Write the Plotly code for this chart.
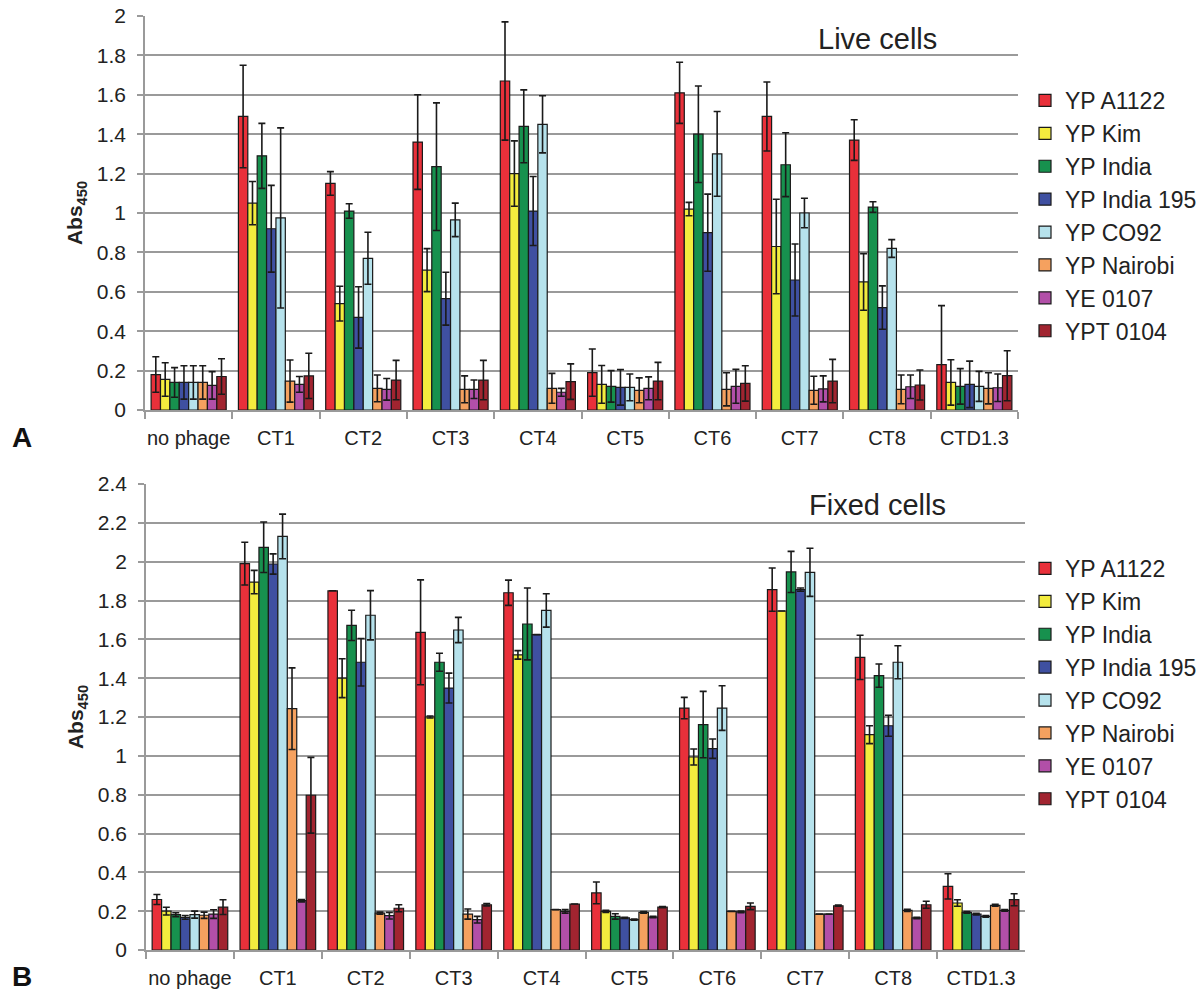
import plotly.graph_objects as go

# Phage categories on the x axis
categories = ["no phage", "CT1", "CT2", "CT3", "CT4", "CT5", "CT6", "CT7", "CT8", "CTD1.3"]

# Bacterial strains (one bar series each)
strains = ["YP A1122", "YP Kim", "YP India", "YP India 195", "YP CO92",
           "YP Nairobi", "YE 0107", "YPT 0104"]

strain_colors = ["#E9303A", "#F3EC3E", "#17914E", "#3F50A1", "#B6E2EC",
                 "#F5A15F", "#B24FA8", "#A12430"]

# Panel A: live cells, Abs450 means per strain across categories
live_yp_a1122 = [0.18, 1.49, 1.15, 1.36, 1.67, 0.19, 1.61, 1.49, 1.37, 0.23]
live_yp_kim = [0.155, 1.05, 0.54, 0.71, 1.20, 0.13, 1.02, 0.83, 0.65, 0.14]
live_yp_india = [0.14, 1.29, 1.01, 1.235, 1.44, 0.12, 1.40, 1.245, 1.03, 0.12]
live_yp_india195 = [0.14, 0.92, 0.47, 0.565, 1.01, 0.115, 0.90, 0.66, 0.52, 0.13]
live_yp_co92 = [0.14, 0.975, 0.77, 0.965, 1.45, 0.115, 1.30, 1.0, 0.82, 0.12]
live_yp_nairobi = [0.14, 0.147, 0.11, 0.105, 0.11, 0.10, 0.105, 0.10, 0.105, 0.11]
live_ye_0107 = [0.125, 0.13, 0.105, 0.105, 0.09, 0.11, 0.12, 0.107, 0.118, 0.113]
live_ypt_0104 = [0.17, 0.173, 0.152, 0.152, 0.144, 0.147, 0.135, 0.147, 0.127, 0.174]

live_err_yp_a1122 = [0.09, 0.26, 0.06, 0.24, 0.30, 0.12, 0.155, 0.175, 0.103, 0.30]
live_err_yp_kim = [0.085, 0.11, 0.088, 0.109, 0.166, 0.096, 0.034, 0.24, 0.144, 0.115]
live_err_yp_india = [0.075, 0.165, 0.037, 0.324, 0.185, 0.08, 0.245, 0.162, 0.027, 0.09]
live_err_yp_india195 = [0.085, 0.22, 0.156, 0.134, 0.175, 0.09, 0.196, 0.183, 0.11, 0.118]
live_err_yp_co92 = [0.085, 0.457, 0.132, 0.085, 0.145, 0.068, 0.215, 0.075, 0.045, 0.076]
live_err_yp_nairobi = [0.085, 0.107, 0.068, 0.068, 0.076, 0.063, 0.084, 0.071, 0.073, 0.079]
live_err_ye_0107 = [0.07, 0.04, 0.055, 0.047, 0.02, 0.058, 0.086, 0.066, 0.06, 0.07]
live_err_ypt_0104 = [0.09, 0.115, 0.10, 0.10, 0.09, 0.095, 0.09, 0.11, 0.076, 0.127]

# Panel B: fixed cells
fixed_yp_a1122 = [0.26, 1.99, 1.85, 1.636, 1.84, 0.294, 1.246, 1.856, 1.507, 0.328]
fixed_yp_kim = [0.20, 1.895, 1.40, 1.20, 1.52, 0.199, 0.994, 1.746, 1.109, 0.242]
fixed_yp_india = [0.182, 2.074, 1.672, 1.482, 1.679, 0.173, 1.161, 1.947, 1.413, 0.194]
fixed_yp_india195 = [0.168, 1.988, 1.482, 1.349, 1.624, 0.165, 1.037, 1.856, 1.155, 0.185]
fixed_yp_co92 = [0.182, 2.13, 1.724, 1.648, 1.749, 0.156, 1.246, 1.945, 1.482, 0.173]
fixed_yp_nairobi = [0.179, 1.243, 0.19, 0.185, 0.208, 0.194, 0.199, 0.185, 0.204, 0.23]
fixed_ye_0107 = [0.185, 0.254, 0.177, 0.156, 0.199, 0.17, 0.196, 0.185, 0.165, 0.204]
fixed_ypt_0104 = [0.221, 0.797, 0.215, 0.233, 0.237, 0.221, 0.225, 0.228, 0.233, 0.259]

fixed_err_yp_a1122 = [0.026, 0.11, 0.0, 0.27, 0.065, 0.056, 0.055, 0.111, 0.114, 0.065]
fixed_err_yp_kim = [0.02, 0.06, 0.10, 0.005, 0.022, 0.005, 0.041, 0.0, 0.046, 0.017]
fixed_err_yp_india = [0.01, 0.13, 0.078, 0.046, 0.185, 0.014, 0.171, 0.106, 0.06, 0.004]
fixed_err_yp_india195 = [0.01, 0.052, 0.122, 0.077, 0.0, 0.003, 0.05, 0.008, 0.054, 0.004]
fixed_err_yp_co92 = [0.018, 0.115, 0.127, 0.065, 0.086, 0.003, 0.115, 0.124, 0.085, 0.004]
fixed_err_yp_nairobi = [0.016, 0.21, 0.005, 0.026, 0.0, 0.004, 0.0, 0.0, 0.005, 0.005]
fixed_err_ye_0107 = [0.022, 0.006, 0.017, 0.017, 0.009, 0.004, 0.004, 0.0, 0.004, 0.004]
fixed_err_ypt_0104 = [0.038, 0.195, 0.018, 0.006, 0.0, 0.003, 0.017, 0.003, 0.018, 0.031]

live_values = [live_yp_a1122, live_yp_kim, live_yp_india, live_yp_india195,
               live_yp_co92, live_yp_nairobi, live_ye_0107, live_ypt_0104]
live_errors = [live_err_yp_a1122, live_err_yp_kim, live_err_yp_india, live_err_yp_india195,
               live_err_yp_co92, live_err_yp_nairobi, live_err_ye_0107, live_err_ypt_0104]
fixed_values = [fixed_yp_a1122, fixed_yp_kim, fixed_yp_india, fixed_yp_india195,
                fixed_yp_co92, fixed_yp_nairobi, fixed_ye_0107, fixed_ypt_0104]
fixed_errors = [fixed_err_yp_a1122, fixed_err_yp_kim, fixed_err_yp_india, fixed_err_yp_india195,
                fixed_err_yp_co92, fixed_err_yp_nairobi, fixed_err_ye_0107, fixed_err_ypt_0104]

FONT = "Liberation Sans, Arial, sans-serif"
TEXT = "#222222"
GRID = "#9a9a9a"
W, H = 1200, 1003

fig = go.Figure()

panels = [
    (live_values, live_errors, "x", "y", "legend"),
    (fixed_values, fixed_errors, "x2", "y2", "legend2"),
]
for values, errors, xa, ya, leg in panels:
    for name, color, vals, errs in zip(strains, strain_colors, values, errors):
        fig.add_trace(go.Bar(
            x=categories, y=vals, name=name,
            xaxis=xa, yaxis=ya, legend=leg,
            marker=dict(color=color, line=dict(color="#1a1a1a", width=1.2)),
            error_y=dict(type="data", array=errs, visible=True,
                         color="#1a1a1a", thickness=1.6, width=3.5),
        ))


def px_x(p):
    return p / W


def px_y(p):
    return 1 - p / H


axis_common = dict(
    showgrid=False, showline=True, linecolor=GRID, linewidth=1.5,
    ticks="outside", ticklen=7, tickcolor=GRID, tickwidth=1.5,
    tickfont=dict(family=FONT, size=20, color=TEXT),
    tickson="boundaries", tickangle=0, automargin=False,
    ticklabelstandoff=9, fixedrange=True,
)
yaxis_common = dict(
    showgrid=True, gridcolor=GRID, gridwidth=1.5,
    showline=True, linecolor=GRID, linewidth=1.5,
    ticks="outside", ticklen=6, tickcolor=GRID, tickwidth=1.5,
    tickfont=dict(family=FONT, size=21, color=TEXT),
    dtick=0.2, zeroline=False, ticklabelstandoff=7, automargin=False,
    title=dict(text="<b>Abs<sub>450</sub></b>",
               font=dict(family=FONT, size=21, color=TEXT), standoff=8),
)

legend_common = dict(
    font=dict(family=FONT, size=23, color=TEXT),
    bgcolor="rgba(0,0,0,0)", itemwidth=30, tracegroupgap=0,
    xanchor="left", yanchor="top", traceorder="normal",
    xref="container", yref="container",
)


def label(text, x, y, size, bold=False):
    return dict(text=f"<b>{text}</b>" if bold else text,
                x=px_x(x), y=px_y(y), xref="paper", yref="paper",
                xanchor="center", yanchor="middle", showarrow=False,
                font=dict(family=FONT, size=size, color="#111111" if bold else TEXT))


fig.update_layout(
    width=W, height=H,
    margin=dict(l=0, r=0, t=0, b=0, autoexpand=False),
    paper_bgcolor="white", plot_bgcolor="white",
    barmode="group", bargap=0.14, bargroupgap=0.0,
    showlegend=True,
    xaxis=dict(domain=[px_x(145), px_x(1018)], anchor="y", **axis_common),
    yaxis=dict(domain=[px_y(410), px_y(16)], anchor="x", range=[0, 2.0], **yaxis_common),
    xaxis2=dict(domain=[px_x(146), px_x(1025)], anchor="y2", **axis_common),
    yaxis2=dict(domain=[px_y(950), px_y(484)], anchor="x2", range=[0, 2.4], **yaxis_common),
    legend=dict(x=px_x(1025), y=px_y(79), **legend_common),
    legend2=dict(x=px_x(1025), y=px_y(547), **legend_common),
    annotations=[
        label("Live cells", 877, 39, 29),
        label("Fixed cells", 877, 505, 29),
        label("A", 22, 437, 28, bold=True),
        label("B", 22, 976, 28, bold=True),
    ],
)

fig.write_html("out.html")
